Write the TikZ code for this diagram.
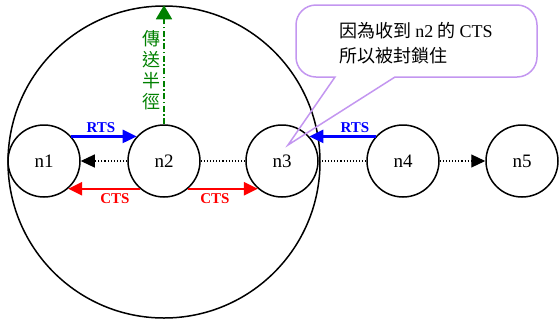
\documentclass[tikz,border=0pt]{standalone}
\usepackage{fontspec}
\setmainfont{Liberation Serif}
\newfontfamily\cjk{Noto Sans CJK TC}
\usetikzlibrary{arrows.meta}
\definecolor{rtsblue}{RGB}{0,0,255}
\definecolor{ctsred}{RGB}{255,0,0}
\definecolor{radgreen}{RGB}{0,128,0}
\definecolor{notelilac}{RGB}{195,150,240}
\begin{document}
\begin{tikzpicture}[x=1pt,y=-1pt,
  station/.style={circle,draw,line width=1.5pt,minimum size=72pt,inner sep=0pt,font=\fontsize{19}{22}\selectfont},
  rangecircle/.style={circle,draw,line width=1.5pt,minimum size=312pt,inner sep=0pt},
  tipped/.style={-{Triangle[length=14pt,width=13pt]}},
  rtsline/.style={tipped,draw=rtsblue,line width=2.4pt},
  ctsline/.style={tipped,draw=ctsred,line width=2.4pt},
  dotline/.style={draw=black,line width=1.1pt,dotted},
  sigtext/.style={font=\bfseries\fontsize{15}{16}\selectfont,inner sep=0pt},
  radline/.style={draw=radgreen,line width=1.8pt,dash pattern=on 6pt off 2.5pt on 1.5pt off 2.5pt,-{Triangle[length=14pt,width=16pt]}},
  notebox/.style={draw=notelilac,line width=1.5pt}
]
\useasboundingbox (0,0) rectangle (560,325);
\node[rangecircle] (range) at (164,162) {};
\node[station] (n1) at (44,161) {n1};
\node[station] (n2) at (164,161) {n2};
\node[station] (n3) at (282,161) {n3};
\node[station] (n4) at (403,161) {n4};
\node[station] (n5) at (522,161) {n5};

% RTS n1 -> n2
\draw[rtsline] (n1.42) -- (n2.138);
\node[sigtext,text=rtsblue] (rts1) at (101,128) {RTS};
% RTS n4 -> n3
\draw[rtsline] (n4.138) -- (n3.42);
\node[sigtext,text=rtsblue] (rts2) at (355,128) {RTS};
% CTS n2 -> n1, n2 -> n3
\draw[ctsline] (n2.-131) -- (n1.-49);
\draw[ctsline] (n2.-49) -- (n3.-131);
\node[sigtext,text=ctsred] (cts1) at (115,199) {CTS};
\node[sigtext,text=ctsred] (cts2) at (215,199) {CTS};
% dotted links
\draw[dotline,tipped] (n2.west) -- (n1.east);
\draw[dotline] (n2.east) -- (n3.west);
\draw[dotline] (n3.east) -- (n4.west);
\draw[dotline,tipped] (n4.east) -- (n5.west);

% transmission radius
\draw[radline] (n2.north) -- (range.north);
\node[text=radgreen,font=\cjk\fontsize{18}{21}\selectfont,align=center,inner sep=0pt] (radlabel) at (151,70) {傳\\送\\半\\徑};

% callout
\draw[notebox] (296,40) [rounded corners=20pt] -- (296,5) -- (537,5) -- (537,77) [sharp corners] -- (395,77) -- (288,145) -- (335,77) [rounded corners=20pt] -- (296,77) -- (296,40);
\node[font=\cjk\fontsize{18}{25}\selectfont,align=left,inner sep=0pt] (note) at (416,43) {因為收到 {\rmfamily n2} 的 {\rmfamily CTS}\\所以被封鎖住};
\end{tikzpicture}
\end{document}
